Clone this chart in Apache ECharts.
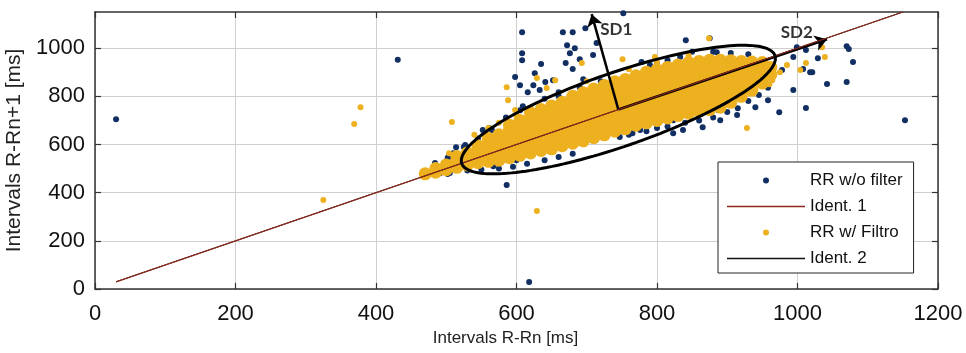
<!DOCTYPE html>
<html><head><meta charset="utf-8">
<script src="https://cdn.jsdelivr.net/npm/echarts/dist/echarts.min.js"></script>
<style>html,body{margin:0;padding:0;background:#fff}#c{width:966px;height:353px}</style>
</head><body><div id="c"></div>
<script>
// ---------- text ----------
const xAxisTitle = 'Intervals R-Rn [ms]';
const yAxisTitle = 'Intervals R-Rn+1 [ms]';
const legendNames = ['RR w/o filter', 'Ident. 1', 'RR w/ Filtro', 'Ident. 2'];

// ---------- axes ----------
const xRange = [0, 1200];
const yRange = [0, 1150];
const tickStep = 200;
const yTickValues = [0, 200, 400, 600, 800, 1000];

// ---------- identity lines ----------
const ident1 = [[30, 30], [1150, 1150]];
const ident2 = [[30, 30], [1150, 1150]];

// ---------- RR without filter (dark blue dots) ----------
const rrNoFilter = [
  [30,705],[431,952],[618,29],[1153,701],[586,432],[752,1145],
  [1012,992],[1029,958],[1070,1008],[1073,996],[1079,942],[1042,851],[1070,859],[1018,900],[1008,913],[1012,751],
  [978,909],[994,963],[999,1004],[1021,900],[994,826],[974,734],[958,784],[940,755],[914,722],[890,701],[887,743],
  [837,660],[823,647],[865,672],
  [608,1066],[608,979],[608,950],[666,1066],[680,1066],[698,1083],[672,1012],[676,979],[683,1000],[690,954],
  [714,1021],[709,971],[635,934],[626,896],[641,859],[652,867],[670,938],[680,913],[695,871],[598,880],
  [605,846],[616,817],[624,846],[633,826],[660,817],[700,784],[609,759],[552,660],[561,668],[527,598],
  [510,564],[503,548],[841,1033],[875,1041],[885,983],[778,942],[800,938],[833,963],
  [514,589],[484,523],[502,544],[511,560],[491,481],[502,477],
  [567,510],[600,535],[695,606],[747,631],[765,647],[776,660],[823,701],[871,743],[904,784],[937,855],
  [525,590],[545,625],[565,660],[585,712],[605,742],[640,790],[660,800],[690,838],[720,862],
  [505,482],[530,492],[550,496],[575,500],[595,508],[615,520],[640,535],[660,548],[680,562],
  [760,640],[785,655],[800,668],[815,675],[840,690],[860,700],[880,712],[900,735],[915,750],[930,780],[945,805],[958,835],
  [850,985],[880,985],[905,980],[930,975],[790,930],[815,950]
];

// ---------- RR with filter: dense core (column x, y values) ----------
const rrFiltroCore = [
  [470,[478]],
  [485,[485,500]],
  [500,[495,515]],
  [515,[505,530,550]],
  [530,[515,540,565]],
  [545,[525,550,575,595]],
  [560,[530,555,580,605,625]],
  [575,[535,560,590,615,640]],
  [590,[545,570,600,630,660,680]],
  [605,[555,580,610,640,670,700]],
  [620,[565,590,620,650,680,710,730]],
  [635,[575,600,630,660,690,720,745]],
  [650,[582,610,640,670,700,730,760]],
  [665,[595,625,655,685,715,745,775]],
  [680,[605,635,665,695,725,755,785,800]],
  [695,[615,645,675,705,735,765,795,815]],
  [710,[628,660,690,720,750,780,810,830]],
  [725,[640,670,700,730,760,790,820,845]],
  [740,[655,685,715,745,775,805,835,860]],
  [755,[665,695,725,755,785,815,845,870]],
  [770,[680,710,740,770,800,830,860,885]],
  [785,[690,720,750,780,810,840,870,900]],
  [800,[700,730,760,790,820,850,880,910]],
  [815,[710,740,770,800,830,860,890,920]],
  [830,[720,750,780,810,840,870,900,930]],
  [845,[730,760,790,820,850,880,910,940]],
  [860,[738,768,798,828,858,888,918,945]],
  [875,[745,775,805,835,865,895,925,950]],
  [890,[755,785,815,845,875,905,935,950]],
  [905,[775,805,835,865,895,925,948]],
  [920,[800,830,860,890,920,945]],
  [935,[825,855,885,915,942]],
  [950,[855,885,915,940]],
  [962,[890,920]]
];

// ---------- RR with filter: scattered points ----------
const rrFiltroPoints = [
  [325,369],[369,685],[378,755],[508,693],[629,324],[1035,1004],[1039,963],[1012,938],[1004,909],
  [874,1041],[797,963],[751,954],[586,838],[588,784],[598,743],[629,876],[655,867],[693,938],[643,834],
  [928,668],[964,867],[472,481],[480,476],[504,564],[540,640],[560,668],[575,690],[600,722],[620,752],
  [700,862],[760,912],[800,940],[845,968],[985,930],[975,900],[960,850]
];

// ---------- Poincare ellipse / SD annotations ----------
const ellipseCenter = [745, 745];
const sd2Half = [223, 224];   // semi-axis along identity
const sd1Half = [-17, 145];   // semi-axis across identity
const sd1Tip = [707, 1141];
const sd2Tip = [1042, 1037];
const sdLabels = [[742, 1079, 'SD1'], [999, 1066, 'SD2']];

// ---------- build ----------
const coreData = [];
rrFiltroCore.forEach(([x, ys]) => ys.forEach(y => coreData.push([x, y])));
const ellipseData = [];
for (let i = 0; i <= 160; i++) {
  const t = i / 160 * Math.PI * 2;
  ellipseData.push([
    ellipseCenter[0] + Math.cos(t) * sd2Half[0] + Math.sin(t) * sd1Half[0],
    ellipseCenter[1] + Math.cos(t) * sd2Half[1] + Math.sin(t) * sd1Half[1]
  ]);
}

const BLUE = '#112f63';
const GOLD = '#edb120';
const RED = '#8c2a1c';
const FONT = 'Liberation Sans';
const LINE_ICON = 'path://M0,0L78,0L78,1.4L0,1.4Z';

const chart = echarts.init(document.getElementById('c'), null, {renderer: 'canvas'});
const baseX = {type: 'value', min: xRange[0], max: xRange[1], interval: tickStep};
const baseY = {type: 'value', min: yRange[0], max: yRange[1], interval: tickStep};
chart.setOption({
  animation: false,
  backgroundColor: '#fff',
  grid: {left: 95, right: 28, top: 12, bottom: 64, containLabel: false, outerBoundsMode: 'none'},
  xAxis: [
    Object.assign({}, baseX, {
      position: 'bottom',
      name: xAxisTitle, nameLocation: 'middle', nameGap: 40,
      nameTextStyle: {fontSize: 17, fontFamily: FONT, color: '#222', padding: [0, 22, 0, 0]},
      axisLine: {show: true, onZero: false, lineStyle: {color: '#333', width: 1.5}},
      axisTick: {show: true, inside: true, length: 6, lineStyle: {color: '#333', width: 1.2}},
      axisLabel: {fontSize: 22, fontFamily: FONT, color: '#111', margin: 14, formatter: v => String(v)},
      splitLine: {show: true, lineStyle: {color: '#cfcfcf', width: 1}}
    }),
    Object.assign({}, baseX, {
      position: 'top',
      axisLine: {show: true, onZero: false, lineStyle: {color: '#333', width: 1.5}},
      axisTick: {show: true, inside: true, length: 6, lineStyle: {color: '#333', width: 1.2}},
      axisLabel: {show: false},
      splitLine: {show: false}
    })
  ],
  yAxis: [
    Object.assign({}, baseY, {
      position: 'left',
      name: yAxisTitle, nameLocation: 'middle', nameGap: 62, nameRotate: 90,
      nameTextStyle: {fontSize: 21, fontFamily: FONT, color: '#222'},
      axisLine: {show: true, onZero: false, lineStyle: {color: '#333', width: 1.5}},
      axisTick: {show: true, inside: true, length: 6, lineStyle: {color: '#333', width: 1.2},
        customValues: yTickValues},
      axisLabel: {fontSize: 22, fontFamily: FONT, color: '#111', margin: 10,
        formatter: v => (v % tickStep === 0 ? String(v) : '')},
      splitLine: {show: true, lineStyle: {color: '#cfcfcf', width: 1}}
    }),
    Object.assign({}, baseY, {
      position: 'right',
      axisLine: {show: true, onZero: false, lineStyle: {color: '#333', width: 1.5}},
      axisTick: {show: true, inside: true, length: 6, lineStyle: {color: '#333', width: 1.2},
        customValues: yTickValues},
      axisLabel: {show: false},
      splitLine: {show: false}
    })
  ],
  legend: {
    show: true, orient: 'vertical', left: 718, top: 162,
    itemWidth: 78, itemHeight: 6, itemGap: 9,
    padding: [10, 11, 6, 9],
    borderColor: '#222', borderWidth: 1, backgroundColor: '#fff',
    selectedMode: false,
    textStyle: {fontSize: 17, fontFamily: FONT, color: '#111', lineHeight: 17},
    data: [
      {name: legendNames[0], icon: 'circle'},
      {name: legendNames[1], icon: LINE_ICON, itemStyle: {color: RED}},
      {name: legendNames[2], icon: 'circle'},
      {name: legendNames[3], icon: LINE_ICON, itemStyle: {color: '#111'}}
    ]
  },
  series: [
    {
      name: legendNames[0], type: 'scatter', data: rrNoFilter, symbolSize: 6,
      itemStyle: {color: BLUE, opacity: 1}, silent: true, z: 2
    },
    {
      name: legendNames[2], type: 'scatter', data: coreData, symbolSize: 13,
      itemStyle: {color: GOLD, opacity: 1}, silent: true, z: 3
    },
    {
      name: legendNames[2], type: 'scatter', data: rrFiltroPoints, symbolSize: 6,
      itemStyle: {color: GOLD, opacity: 1}, silent: true, z: 3
    },
    {
      name: legendNames[3], type: 'line', data: ident2, symbol: 'none', showSymbol: false,
      lineStyle: {color: '#111', width: 1}, itemStyle: {color: '#111'}, silent: true, z: 4
    },
    {
      name: legendNames[1], type: 'line', data: ident1, symbol: 'none', showSymbol: false,
      lineStyle: {color: RED, width: 1.3}, itemStyle: {color: RED}, silent: true, z: 5
    },
    {
      name: 'ellipse', type: 'line', data: ellipseData, symbol: 'none', showSymbol: false,
      lineStyle: {color: '#000', width: 3}, silent: true, z: 6,
      markLine: {
        silent: true, symbol: ['none', 'arrow'], symbolSize: 12,
        lineStyle: {color: '#000', width: 2.5, type: 'solid'},
        itemStyle: {color: '#000'},
        label: {show: false}, animation: false,
        data: [
          [{coord: ellipseCenter, symbol: 'none'}, {coord: sd1Tip, symbol: 'arrow'}],
          [{coord: ellipseCenter, symbol: 'none'}, {coord: sd2Tip, symbol: 'arrow'}]
        ]
      }
    },
    {
      name: 'sdText', type: 'scatter', data: sdLabels, symbolSize: 1,
      itemStyle: {color: 'rgba(0,0,0,0)'}, silent: true, z: 7,
      label: {show: true, position: 'inside', formatter: p => p.value[2],
        fontSize: 17, fontWeight: 'bold', fontFamily: 'Lato', color: '#000'}
    }
  ]
});
</script></body></html>
